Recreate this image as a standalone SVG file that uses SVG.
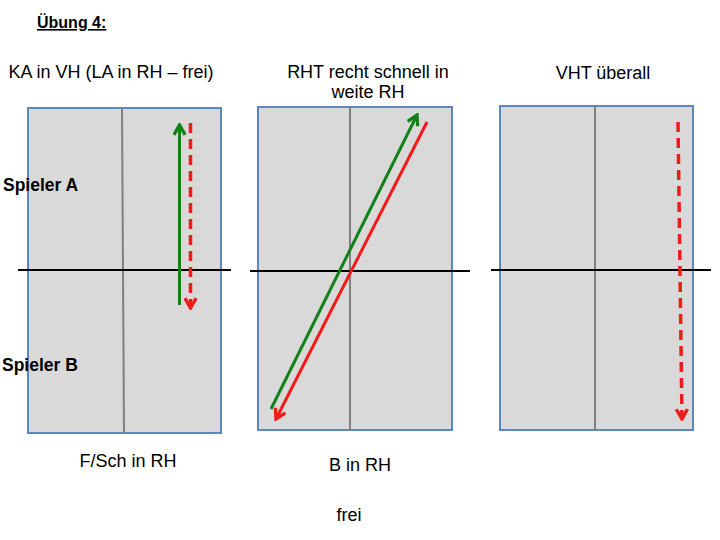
<svg xmlns="http://www.w3.org/2000/svg" width="720" height="540" viewBox="0 0 720 540">
<defs>
<style>
.t{font-family:"Liberation Sans",Arial,sans-serif;font-size:18px;fill:#000}
.b{font-weight:bold}
.court{fill:#d9d9d9;stroke:#5f86bd;stroke-width:2}
.mid{stroke:#808080;stroke-width:2}
.net{stroke:#000;stroke-width:2}
.g{stroke:#13801a;stroke-width:3;fill:none}
.r{stroke:#f21a1a;stroke-width:3;fill:none}
.d{stroke-width:3.5;stroke-dasharray:10 6}
</style>
<marker id="ag" viewBox="0 0 10 10" refX="8.5" refY="5" markerWidth="14" markerHeight="14" orient="auto" markerUnits="userSpaceOnUse">
<polyline points="1.5,1 8.5,5 1.5,9" fill="none" stroke="#13801a" stroke-width="2.4"/>
</marker>
<marker id="ar" viewBox="0 0 10 10" refX="8.5" refY="5" markerWidth="14" markerHeight="14" orient="auto" markerUnits="userSpaceOnUse">
<polyline points="1.5,1 8.5,5 1.5,9" fill="none" stroke="#f21a1a" stroke-width="2.4"/>
</marker>
</defs>
<rect width="720" height="540" fill="#fff"/>
<g id="title"><text class="t b" x="37" y="28" style="font-size:16px" text-decoration="underline">Übung 4:</text></g>
<g id="labels">
<text class="t" x="111" y="78" text-anchor="middle">KA in VH (LA in RH – frei)</text>
<text class="t" x="368" y="78" text-anchor="middle">RHT recht schnell in</text>
<text class="t" x="368" y="98" text-anchor="middle">weite RH</text>
<text class="t" x="603" y="79" text-anchor="middle">VHT überall</text>
<text class="t" x="128" y="467" text-anchor="middle">F/Sch in RH</text>
<text class="t" x="360" y="471" text-anchor="middle">B in RH</text>
<text class="t" x="349" y="521" text-anchor="middle">frei</text>
</g>
<g id="court1">
<rect class="court" x="28" y="108" width="193" height="325"/>
<line class="mid" x1="122" y1="107" x2="124" y2="433"/>
<line class="net" x1="18" y1="270" x2="231" y2="270"/>
</g>
<g id="court2">
<rect class="court" x="258" y="107" width="194" height="323"/>
<line class="mid" x1="350" y1="107" x2="350" y2="431"/>
<line class="net" x1="250" y1="271" x2="470" y2="271"/>
</g>
<g id="court3">
<rect class="court" x="500" y="106" width="193" height="324"/>
<line class="mid" x1="595" y1="106" x2="595" y2="431"/>
<line class="net" x1="491" y1="270" x2="711" y2="270"/>
</g>
<g id="players">
<text class="t b" x="3" y="191" style="font-size:17.5px">Spieler A</text>
<text class="t b" x="2" y="371" style="font-size:17.5px">Spieler B</text>
</g>
<g id="connectors">
<line class="g" x1="179.5" y1="305" x2="179.5" y2="125" marker-end="url(#ag)"/>
<line class="r d" x1="190.5" y1="123" x2="190.5" y2="308" marker-end="url(#ar)"/>
<line class="g" x1="271" y1="409" x2="417" y2="115" marker-end="url(#ag)"/>
<line class="r" x1="427" y1="122" x2="276" y2="419" marker-end="url(#ar)"/>
<line class="r d" x1="678" y1="122" x2="682" y2="419" marker-end="url(#ar)"/>
</g>
</svg>
